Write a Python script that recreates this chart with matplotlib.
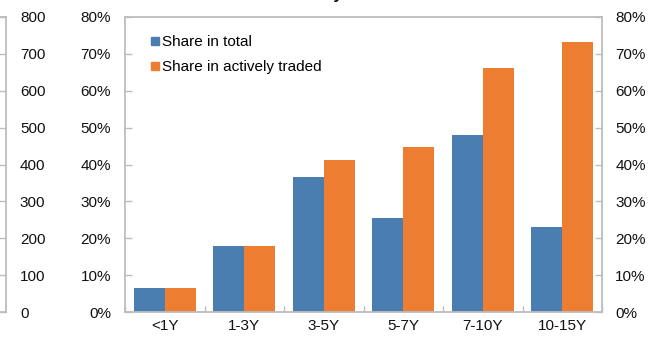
import matplotlib
matplotlib.use("Agg")
import matplotlib.pyplot as plt
from matplotlib.lines import Line2D
from matplotlib.ticker import FuncFormatter, MultipleLocator
import numpy as np

plt.rcParams['font.family'] = ['Liberation Sans', 'DejaVu Sans']

# Data
categories = ['<1Y', '1-3Y', '3-5Y', '5-7Y', '7-10Y', '10-15Y']
share_total = [6.5, 18.0, 36.5, 25.6, 48.1, 23.0]
share_active = [6.5, 18.0, 41.1, 44.7, 66.2, 73.2]
pct_ticks = [0, 10, 20, 30, 40, 50, 60, 70, 80]
count_ticks = [0, 100, 200, 300, 400, 500, 600, 700, 800]

BLUE = '#4A7EB0'
ORANGE = '#ED7D31'
GREY = '#BDBDBD'
TXT = '#111111'
FS = 11

W, H = 651, 339
fig = plt.figure(figsize=(W / 100, H / 100), dpi=100)

def frac_x(px):
    return px / W

def frac_y(py):
    return 1 - py / H

top_px, bot_px = 17, 312

# Neighbouring panel (only its right edge is on the page)
ax0 = fig.add_axes([frac_x(-400), frac_y(bot_px), frac_x(406), frac_y(top_px) - frac_y(bot_px)])
ax0.set_ylim(0, 800)
ax0.set_xlim(0, 1)
ax0.set_xticks([])
ax0.set_yticks(count_ticks)
ax0.yaxis.tick_right()
ax0.tick_params(axis='y', direction='in', length=5, width=1.0, color=GREY,
                labelsize=FS, labelcolor=TXT, pad=10)
for s in ax0.spines.values():
    s.set_color(GREY)
    s.set_linewidth(1.3)

# Main panel
ax = fig.add_axes([frac_x(125), frac_y(bot_px), frac_x(602 - 125), frac_y(top_px) - frac_y(bot_px)])
x = np.arange(len(categories))
bw = 0.39
ax.bar(x - bw / 2, share_total, width=bw, color=BLUE, label='Share in total', zorder=2)
ax.bar(x + bw / 2, share_active, width=bw, color=ORANGE, label='Share in actively traded', zorder=2)
ax.set_xlim(-0.5, len(categories) - 0.5)
ax.set_ylim(0, 80)
ax.set_yticks(pct_ticks)
pct_fmt = FuncFormatter(lambda v, p: f'{v:.0f}%')
ax.yaxis.set_major_formatter(pct_fmt)
ax.set_xticks(x)
ax.set_xticklabels(categories)
ax.xaxis.set_minor_locator(MultipleLocator(1, offset=0.5))
ax.tick_params(axis='x', which='major', length=0, labelsize=FS, labelcolor=TXT, pad=5)
ax.tick_params(axis='x', which='minor', direction='in', length=4, width=1.0, color=GREY)
ax.tick_params(axis='y', direction='in', length=5, width=1.0, color=GREY,
               labelsize=FS, labelcolor=TXT, pad=10)
for s in ax.spines.values():
    s.set_color(GREY)
    s.set_linewidth(1.3)

axr = ax.twinx()
axr.set_ylim(0, 80)
axr.set_yticks(pct_ticks)
axr.yaxis.set_major_formatter(pct_fmt)
axr.tick_params(axis='y', direction='in', length=5, width=1.0, color=GREY,
                labelsize=FS, labelcolor=TXT, pad=9.5)
for s in axr.spines.values():
    s.set_visible(False)

handles = [Line2D([], [], marker='s', ls='', color=BLUE, markersize=5.5),
           Line2D([], [], marker='s', ls='', color=ORANGE, markersize=5.5)]
ax.legend(handles, ['Share in total', 'Share in actively traded'],
          loc='upper left', bbox_to_anchor=(0.03, 0.975), frameon=False,
          fontsize=FS, handlelength=0.6, handletextpad=0.2, labelspacing=0.72,
          borderaxespad=0.3)

# Panel title, running off the top edge
fig.text(frac_x(248), frac_y(-1), 'Turnover by tenor', ha='left', va='baseline',
         fontsize=12, fontweight='bold', color=TXT)

fig.savefig('out.png', dpi=100)
